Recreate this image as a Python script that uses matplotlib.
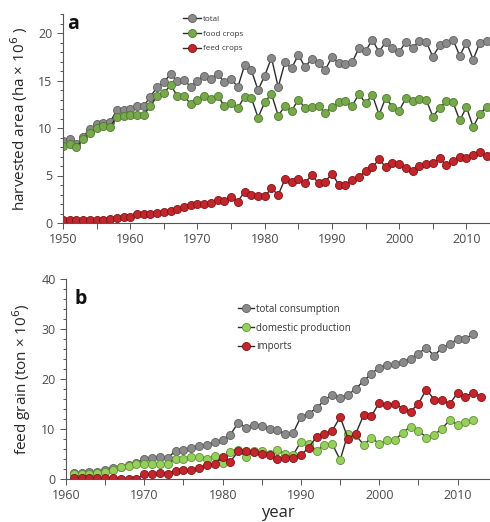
import numpy as np
import matplotlib
matplotlib.use("Agg")
import matplotlib.pyplot as plt
from matplotlib.ticker import MultipleLocator

plt.rcParams['font.family'] = ['Open Sans', 'DejaVu Sans']

# panel a: harvested area (ha x 10^6), 1950-2013
years_a = np.arange(1950, 2014)
total = [8.6, 8.8, 8.3, 9.1, 9.9, 10.4, 10.5, 10.6, 11.9, 11.9,
         12.0, 12.3, 12.3, 13.3, 14.3, 14.8, 15.7, 14.9, 15.1, 14.3,
         15.0, 15.5, 15.2, 15.7, 14.8, 15.2, 14.3, 16.6, 16.1, 14.0,
         15.5, 17.4, 14.3, 16.9, 16.3, 17.7, 16.4, 17.3, 16.8, 16.1,
         17.5, 16.8, 16.7, 16.9, 18.4, 18.1, 19.3, 18.0, 19.1, 18.4,
         18.0, 19.1, 18.4, 19.2, 19.1, 17.5, 18.7, 18.9, 19.3, 17.6,
         19.0, 17.2, 19.0, 19.2]
food = [8.1, 8.3, 8.0, 8.8, 9.5, 10.0, 10.2, 10.1, 11.2, 11.3,
        11.4, 11.4, 11.4, 12.3, 13.4, 13.7, 14.5, 13.4, 13.4, 12.5,
        13.0, 13.4, 13.1, 13.4, 12.3, 12.6, 12.1, 13.3, 13.2, 11.1,
        12.7, 13.6, 11.3, 12.3, 11.8, 13.0, 12.1, 12.2, 12.3, 11.6,
        12.2, 12.7, 12.8, 12.3, 13.6, 12.6, 13.5, 11.4, 13.2, 12.2,
        11.8, 13.2, 12.8, 13.1, 13.0, 11.2, 12.1, 12.8, 12.7, 10.8,
        12.2, 10.1, 11.5, 12.2]
feed = [0.3, 0.3, 0.3, 0.3, 0.3, 0.3, 0.35, 0.4, 0.55, 0.6,
        0.6, 0.9, 0.9, 1.0, 1.05, 1.15, 1.25, 1.5, 1.65, 1.85,
        1.95, 2.05, 2.07, 2.4, 2.3, 2.7, 2.25, 3.3, 2.9, 2.8,
        2.8, 3.65, 2.95, 4.6, 4.35, 4.6, 4.25, 5.05, 4.2, 4.35,
        5.2, 4.05, 4.0, 4.5, 4.8, 5.5, 5.85, 6.7, 5.9, 6.3,
        6.2, 5.75, 5.5, 6.0, 6.2, 6.35, 6.8, 6.1, 6.55, 7.0,
        6.8, 7.15, 7.5, 7.05]

# panel b: feed grain (ton x 10^6)
years_b = np.arange(1961, 2013)
consumption = [1.3, 1.3, 1.4, 1.5, 1.8, 2.2, 2.5, 2.8, 3.3, 4.0,
               4.3, 4.5, 4.2, 5.7, 5.8, 6.2, 6.6, 6.9, 7.4, 7.8,
               8.9, 11.3, 10.2, 10.9, 10.7, 10.0, 9.8, 9.0, 9.2, 12.5,
               13.1, 14.2, 15.8, 16.9, 16.3, 16.8, 18.1, 19.6, 21.1, 22.3,
               22.8, 23.0, 23.5, 24.1, 25.1, 26.3, 24.6, 26.3, 27.0, 28.0,
               28.0, 29.1]
domestic = [1.0, 1.0, 1.1, 1.2, 1.4, 1.8, 2.4, 2.7, 3.1, 3.0,
            3.1, 3.1, 3.0, 4.1, 4.1, 4.4, 4.4, 4.0, 4.7, 3.2,
            5.4, 5.8, 4.4, 5.6, 5.7, 5.1, 5.8, 5.0, 4.8, 7.5,
            7.0, 5.7, 6.8, 7.0, 3.8, 9.1, 8.8, 6.8, 8.3, 7.0,
            7.8, 7.8, 9.3, 10.5, 9.7, 8.3, 8.8, 10.1, 11.8, 10.8,
            11.5, 11.8]
years_imp = np.arange(1961, 2014)
imports = [0.2, 0.2, 0.2, 0.2, 0.2, 0.3, 0.0, 0.0, 0.0, 1.0,
           1.0, 1.2, 1.1, 1.7, 1.8, 1.9, 2.2, 2.9, 3.0, 4.5,
           3.5, 5.6, 5.6, 5.5, 5.0, 4.8, 4.1, 4.2, 4.3, 4.8,
           6.3, 8.5, 9.0, 9.7, 12.4, 8.1, 9.1, 12.8, 12.6, 15.3,
           14.8, 15.1, 14.1, 13.5, 15.1, 17.9, 15.9, 15.9, 15.0, 17.3,
           16.5, 17.3, 16.5]

grey = '#8a8a8a'
grey_e = '#5e5e5e'
olive = '#78a84c'
olive_e = '#4e7a2c'
lgreen = '#96d05a'
lgreen_e = '#5f8f35'
red = '#c2262c'
red_e = '#7d1214'
axcol = '#555555'
txtcol = '#4a4a4a'


def style(ax):
    for s in ['top', 'right']:
        ax.spines[s].set_visible(False)
    for s in ['left', 'bottom']:
        ax.spines[s].set_color(axcol)
        ax.spines[s].set_linewidth(0.8)
    ax.tick_params(which='both', colors=axcol, labelcolor=txtcol,
                   labelsize=9, direction='out', width=0.7)
    ax.tick_params(axis='y', which='major', length=4)
    ax.tick_params(axis='y', which='minor', length=2.5)
    ax.tick_params(axis='x', which='both', length=4)


def series(ax, x, y, fc, ec, label):
    ax.plot(x, y, '-', color='#2b2b2b', lw=1.0, marker='o', ms=5.8,
            mfc=fc, mec=ec, mew=0.6, label=label)


fig = plt.figure(figsize=(4.9, 5.22), dpi=100)

ax1 = fig.add_axes([63 / 490, 1 - 223 / 522, 427 / 490, 209 / 522])
series(ax1, years_a, total, grey, grey_e, 'total')
series(ax1, years_a, food, olive, olive_e, 'food crops')
series(ax1, years_a, feed, red, red_e, 'feed crops')
ax1.set_xlim(1950, 2013.5)
ax1.set_ylim(0, 22)
ax1.xaxis.set_major_locator(MultipleLocator(10))
ax1.xaxis.set_minor_locator(MultipleLocator(5))
ax1.yaxis.set_major_locator(MultipleLocator(5))
ax1.yaxis.set_minor_locator(MultipleLocator(1))
style(ax1)
ax1.set_ylabel('harvested area (ha \u00d7 10$^6$ )', fontsize=11,
               color='#262626', labelpad=6)
ax1.text(0.01, 1.0, 'a', transform=ax1.transAxes, fontsize=14,
         fontweight='bold', va='top', ha='left', color='#111111')
ax1.legend(loc='upper left', bbox_to_anchor=(0.265, 1.03), frameon=False,
           fontsize=5.8, handlelength=2.2, handletextpad=0.2,
           labelspacing=0.9, labelcolor='#333333')

ax2 = fig.add_axes([66 / 490, 1 - 479 / 522, 423 / 490, 200 / 522])
series(ax2, years_b, consumption, grey, grey_e, 'total consumption')
series(ax2, years_b, domestic, lgreen, lgreen_e, 'domestic production')
series(ax2, years_imp, imports, red, red_e, 'imports')
ax2.set_xlim(1960, 2014)
ax2.set_ylim(0, 40)
ax2.xaxis.set_major_locator(MultipleLocator(10))
ax2.xaxis.set_minor_locator(MultipleLocator(5))
ax2.yaxis.set_major_locator(MultipleLocator(10))
ax2.yaxis.set_minor_locator(MultipleLocator(2))
style(ax2)
ax2.set_ylabel('feed grain (ton \u00d7 10$^6$)', fontsize=11,
               color='#262626', labelpad=6)
ax2.set_xlabel('year', fontsize=12, color='#262626', labelpad=2)
ax2.text(0.02, 0.95, 'b', transform=ax2.transAxes, fontsize=14,
         fontweight='bold', va='top', ha='left', color='#111111')
ax2.legend(loc='upper left', bbox_to_anchor=(0.385, 0.92), frameon=False,
           fontsize=7, handlelength=1.7, handletextpad=0.2,
           labelspacing=0.8, labelcolor='#333333')

fig.savefig('out.png', dpi=100)
